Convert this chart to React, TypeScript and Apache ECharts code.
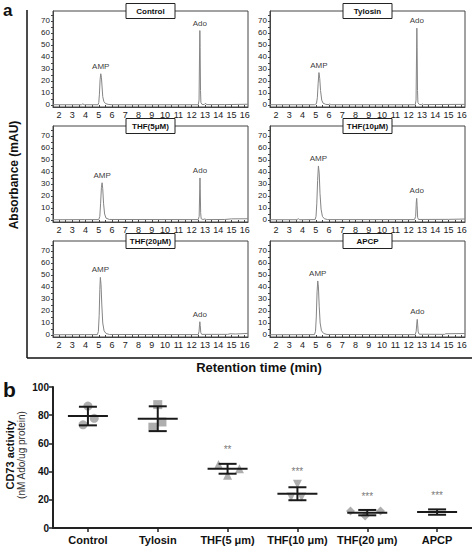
import React, { useEffect, useRef } from "react";
import * as echarts from "echarts";

const FONT = "'Liberation Sans', Arial, sans-serif";

// ---- Panel a: chromatograms ----
const panelTitles = ["Control", "Tylosin", "THF(5μM)", "THF(10μM)", "THF(20μM)", "APCP"];
const xTickLabels = [2, 3, 4, 5, 6, 7, 8, 9, 10, 11, 12, 13, 14, 15, 16];
const yTickLabels = [0, 10, 20, 30, 40, 50, 60, 70];

const controlTrace = [[1.55,0.2],[3.7,0.2],[3.8,0.9],[3.9,0.2],[4.95,0.2],[5.0,2],[5.05,9],[5.1,21],[5.15,26],[5.2,23],[5.25,15],[5.3,7],[5.38,3],[5.5,1.2],[5.7,0.5],[6.0,0.2],[12.5,0.2],[12.56,4],[12.6,45],[12.62,62],[12.64,48],[12.67,12],[12.7,2],[12.78,0.5],[12.95,0.3],[13.05,1.5],[13.12,0.3],[14.5,0.3],[16.25,0.6]];
const tylosinTrace = [[1.55,0.2],[4.9,0.2],[5.05,1],[5.12,6],[5.18,18],[5.24,27],[5.3,22],[5.36,12],[5.45,4],[5.55,1.5],[5.75,0.5],[6.0,0.3],[6.05,1],[6.1,0.2],[12.5,0.2],[12.56,4],[12.6,45],[12.62,64],[12.64,48],[12.67,12],[12.7,2],[12.8,0.4],[13.0,0.3],[13.05,0.8],[13.1,0.3],[16.25,0.5]];
const thf5Trace = [[1.55,0.2],[3.9,0.3],[5.0,0.3],[5.08,3],[5.14,14],[5.2,27],[5.25,31],[5.3,26],[5.36,14],[5.44,5],[5.55,1.5],[5.8,0.4],[12.5,0.3],[12.57,3],[12.61,25],[12.63,35],[12.65,26],[12.68,6],[12.72,1],[12.85,0.4],[13.0,0.8],[13.1,0.3],[14.5,0.4],[15.0,0.9],[16.25,1.0]];
const thf10Trace = [[1.55,0.2],[3.6,0.2],[3.68,1.2],[3.76,0.2],[4.95,0.3],[5.02,3],[5.08,14],[5.14,33],[5.2,45],[5.26,39],[5.32,22],[5.4,9],[5.5,3],[5.65,1],[5.9,0.3],[12.45,0.3],[12.53,3],[12.58,15],[12.61,18],[12.64,12],[12.68,2],[12.75,0.4],[15.0,0.5],[16.25,0.8]];
const thf20Trace = [[1.55,0.2],[3.9,0.3],[4.9,0.3],[4.97,3],[5.03,16],[5.08,38],[5.12,48],[5.17,42],[5.23,25],[5.3,10],[5.4,3.5],[5.55,1.2],[5.8,0.4],[12.5,0.3],[12.56,3],[12.6,9],[12.62,11],[12.65,8],[12.69,2],[12.76,0.5],[14.7,0.5],[14.9,1],[15.3,0.8],[16.25,1.3]];
const apcpTrace = [[1.55,0.2],[4.9,0.3],[4.98,3],[5.04,15],[5.1,36],[5.15,45],[5.2,40],[5.26,24],[5.33,10],[5.43,3.5],[5.6,1.2],[5.85,0.4],[12.5,0.3],[12.57,3],[12.62,10],[12.65,13],[12.68,9],[12.72,2.5],[12.8,0.6],[14.7,0.5],[14.8,1],[16.25,1.2]];
const traces = [controlTrace, tylosinTrace, thf5Trace, thf10Trace, thf20Trace, apcpTrace];
const peakNames = ["AMP", "Ado"];

// ---- Panel b: CD73 activity ----
const categories = ["Control", "Tylosin", "THF(5 μm)", "THF(10 μm)", "THF(20 μm)", "APCP"];
const pointValues = [
  [86.5, 77.8, 73.2],
  [87.5, 75.2, 71.5],
  [45, 37.5, 42],
  [31, 22, 22],
  [12, 12, 8.5],
  [14.5, 10.5, 12],
];
const pointJitter = [
  [0, 0.09, -0.07],
  [0, 0.06, -0.07],
  [-0.13, 0, 0.17],
  [0, -0.09, 0.06],
  [-0.24, 0.19, -0.03],
  [-0.17, -0.06, 0.11],
];
const means = [79.4, 77.5, 42, 24.3, 10.9, 11.3];
const sds = [6.6, 8.8, 3.5, 4.6, 1.9, 1.9];
const significance = ["", "", "**", "***", "***", "***"];
const significanceY = [0, 0, 52, 36, 18.5, 19];

const symbols = ["circle", "rect", "triangle", "triangle", "diamond", "emptyCircle"];
const symbolRot = [0, 0, 0, 180, 0, 0];

export default function App() {
  const ref = useRef<HTMLDivElement>(null);

  useEffect(() => {
    if (!ref.current) return;
    const chart = echarts.init(ref.current, null, { renderer: "svg" });

    const colLeft = [53, 270];
    const rowTop = [11, 126, 241];
    const gw = 195;
    const gh = 96;

    const grids: any[] = [];
    const xAxes: any[] = [];
    const yAxes: any[] = [];
    const series: any[] = [];
    const graphics: any[] = [];

    const halfTicks: number[] = [];
    for (let v = 2; v <= 16; v += 0.5) halfTicks.push(v);
    const yMinor: number[] = [];
    for (let v = 0; v <= 75; v += 5) yMinor.push(v);

    traces.forEach((tr, i) => {
      const col = i % 2;
      const row = Math.floor(i / 2);
      const left = colLeft[col];
      const top = rowTop[row];
      grids.push({ left, top, width: gw, height: gh, show: true, borderColor: "#444", borderWidth: 1, backgroundColor: "#fff" });
      xAxes.push({
        type: "value", gridIndex: i, min: 1.55, max: 16.25,
        axisLine: { show: true, onZero: false, lineStyle: { color: "#444", width: 1 } },
        axisTick: { show: true, inside: true, length: 2, customValues: halfTicks, lineStyle: { color: "#444" } },
        axisLabel: { customValues: xTickLabels, fontSize: 9, fontFamily: FONT, color: "#222", margin: 3 },
        splitLine: { show: false },
      });
      yAxes.push({
        type: "value", gridIndex: i, min: -1.7, max: 78.3,
        axisLine: { show: true, onZero: false, lineStyle: { color: "#444", width: 1 } },
        axisTick: { show: true, inside: false, length: 2, customValues: yMinor, lineStyle: { color: "#444" } },
        axisLabel: { customValues: yTickLabels, fontSize: 8, fontFamily: FONT, color: "#222", margin: 3 },
        splitLine: { show: false },
      });
      series.push({
        type: "line", xAxisIndex: i, yAxisIndex: i, data: tr, showSymbol: false, symbol: "none",
        lineStyle: { color: "#858585", width: 1 }, silent: true, z: 2,
      });
      // peak labels: the highest point before 8 min (AMP) and after 12 min (Ado)
      let ampIdx = -1, adoIdx = -1;
      tr.forEach((p, k) => {
        if (p[0] < 8) { if (ampIdx < 0 || p[1] > tr[ampIdx][1]) ampIdx = k; }
        else if (p[0] > 12) { if (adoIdx < 0 || p[1] > tr[adoIdx][1]) adoIdx = k; }
      });
      series.push({
        type: "scatter", xAxisIndex: i, yAxisIndex: i, symbolSize: 1, silent: true, z: 3,
        itemStyle: { color: "rgba(0,0,0,0)" },
        data: [
          { value: tr[ampIdx], name: peakNames[0] },
          { value: tr[adoIdx], name: peakNames[1] },
        ],
        label: { show: true, position: "top", distance: 3, formatter: "{b}", fontSize: 8, fontFamily: FONT, color: "#000", textBorderWidth: 0 },
      });
      // title box
      const cx = left + gw / 2;
      graphics.push({
        type: "group", x: cx - 24.5, y: top - 7.5, z: 100,
        children: [
          { type: "rect", shape: { x: 0, y: 0, width: 49, height: 15 }, style: { fill: "#fff", stroke: "#222", lineWidth: 1 } },
          { type: "text", x: 24.5, y: 7.5, style: { text: panelTitles[i], font: `bold 8px ${FONT}`, fill: "#111", align: "center", verticalAlign: "middle" } },
        ],
      });
    });

    // Panel b
    const bi = 6;
    grids.push({ left: 53, right: 0, top: 387, height: 141 });
    xAxes.push({
      type: "value", gridIndex: bi, min: -0.5, max: 5.5,
      axisLine: { show: true, onZero: false, lineStyle: { color: "#222", width: 2 } },
      axisTick: { show: true, length: 4, customValues: [0, 1, 2, 3, 4, 5], lineStyle: { color: "#222", width: 1.5 } },
      axisLabel: { customValues: [0, 1, 2, 3, 4, 5], formatter: (v: number) => categories[Math.round(v)], fontSize: 11, fontWeight: "bold", fontFamily: FONT, color: "#111", margin: 6 },
      splitLine: { show: false },
    });
    yAxes.push({
      type: "value", gridIndex: bi, min: 0, max: 100, interval: 20,
      axisLine: { show: true, onZero: false, lineStyle: { color: "#222", width: 2 } },
      axisTick: { show: true, length: 4, lineStyle: { color: "#222", width: 1.5 } },
      axisLabel: { fontSize: 10, fontWeight: "bold", fontFamily: FONT, color: "#111", margin: 4 },
      splitLine: { show: false },
    });

    pointValues.forEach((vals, g) => {
      series.push({
        type: "scatter", xAxisIndex: bi, yAxisIndex: bi,
        data: vals.map((v, k) => [g + pointJitter[g][k], v]),
        symbol: symbols[g], symbolRotate: symbolRot[g], symbolSize: g === 5 ? 8 : 9,
        itemStyle: g === 5 ? { color: "#fff", borderColor: "#999", borderWidth: 2 } : { color: "#9a9a9a" },
        silent: true, z: 2,
      });
    });

    series.push({
      type: "custom", xAxisIndex: bi, yAxisIndex: bi, z: 5, silent: true,
      data: means.map((m, g) => [g, m, sds[g]]),
      renderItem: (params: any, api: any) => {
        const x = api.value(0), m = api.value(1), s = api.value(2);
        const c = api.coord([x, m]);
        const t = api.coord([x, m + s]);
        const b = api.coord([x, m - s]);
        const st = { stroke: "#1a1a1a", lineWidth: 2 };
        return {
          type: "group",
          children: [
            { type: "line", shape: { x1: c[0] - 20, y1: c[1], x2: c[0] + 20, y2: c[1] }, style: st },
            { type: "line", shape: { x1: c[0], y1: t[1], x2: c[0], y2: b[1] }, style: st },
            { type: "line", shape: { x1: c[0] - 9, y1: t[1], x2: c[0] + 9, y2: t[1] }, style: st },
            { type: "line", shape: { x1: c[0] - 9, y1: b[1], x2: c[0] + 9, y2: b[1] }, style: st },
          ],
        };
      },
    });

    series.push({
      type: "scatter", xAxisIndex: bi, yAxisIndex: bi, symbolSize: 1, silent: true,
      itemStyle: { color: "rgba(0,0,0,0)" },
      data: significance.map((s, g) => ({ value: [g, significanceY[g]], name: s })).filter((d) => d.name !== ""),
      label: { show: true, position: "top", distance: 0, formatter: "{b}", fontSize: 10, fontFamily: FONT, color: "#555", textBorderWidth: 0 },
    });

    // static decorations
    graphics.push(
      { type: "text", x: 3, y: 2, style: { text: "a", font: `bold 17px ${FONT}`, fill: "#111" } },
      { type: "text", x: 3, y: 379, style: { text: "b", font: `bold 21px ${FONT}`, fill: "#111" } },
      { type: "line", shape: { x1: 27, y1: 10, x2: 27, y2: 358 }, style: { stroke: "#111", lineWidth: 1.5 } },
      { type: "line", shape: { x1: 27, y1: 358, x2: 472, y2: 358 }, style: { stroke: "#111", lineWidth: 1.5 } },
      { type: "text", x: 14, y: 175, rotation: Math.PI / 2, style: { text: "Absorbance (mAU)", font: `bold 12px ${FONT}`, fill: "#111", align: "center", verticalAlign: "middle" } },
      { type: "text", x: 259, y: 367, style: { text: "Retention time (min)", font: `bold 13px ${FONT}`, fill: "#111", align: "center", verticalAlign: "middle" } },
      { type: "text", x: 10, y: 455, rotation: Math.PI / 2, style: { text: "CD73 activity", font: `bold 11px ${FONT}`, fill: "#111", align: "center", verticalAlign: "middle" } },
      { type: "text", x: 21, y: 455, rotation: Math.PI / 2, style: { text: "(nM Ado/ug protein)", font: `10px ${FONT}`, fill: "#333", align: "center", verticalAlign: "middle" } },
    );

    chart.setOption({
      animation: false,
      backgroundColor: "#fff",
      grid: grids,
      xAxis: xAxes,
      yAxis: yAxes,
      series,
      graphic: graphics,
    });

    return () => chart.dispose();
  }, []);

  return <div ref={ref} style={{ position: "fixed", left: 0, top: 0, width: 472, height: 547 }} />;
}
